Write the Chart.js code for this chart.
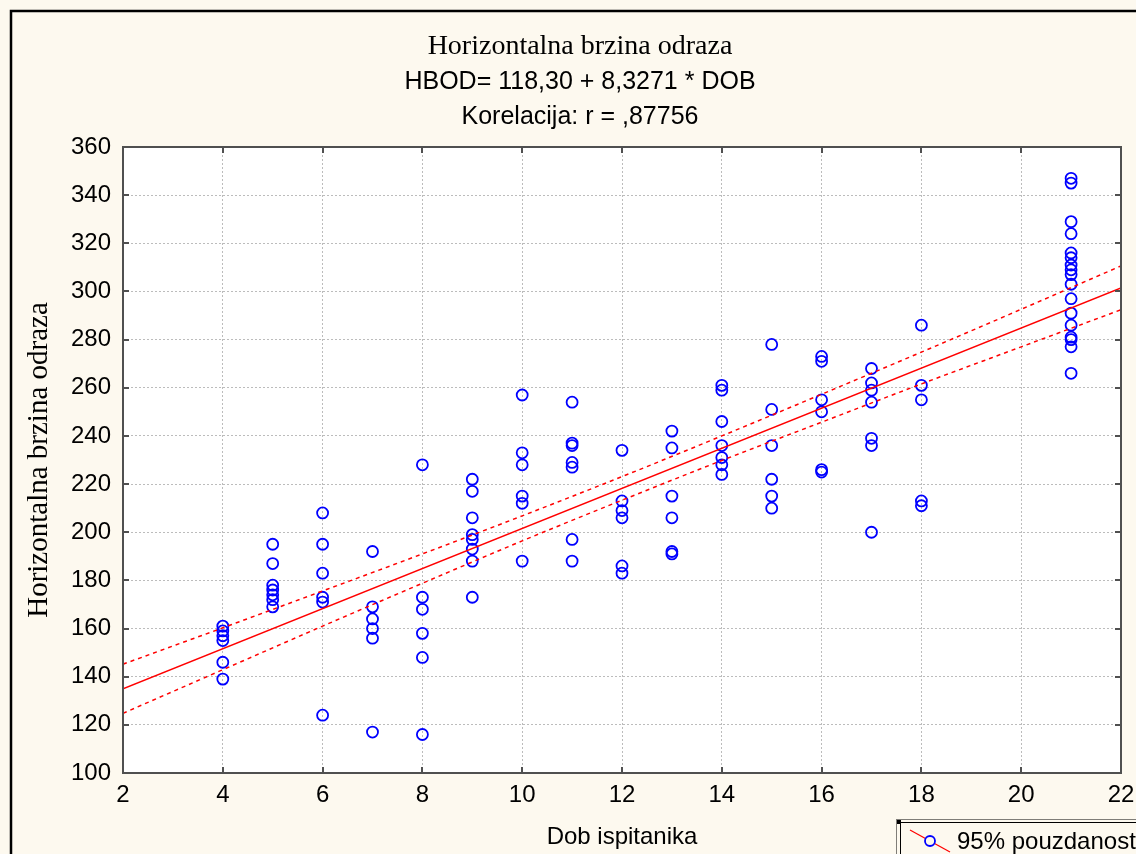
<!DOCTYPE html>
<html>
<head>
<meta charset="utf-8">
<title>Horizontalna brzina odraza</title>
<script src="https://cdn.jsdelivr.net/npm/chart.js@4.4.1/dist/chart.umd.min.js"></script>
<style>
  html, body { margin: 0; padding: 0; background: #fdf9ef; overflow: hidden; }
  canvas { display: block; }
</style>
</head>
<body>
<canvas id="chart" width="1136" height="854"></canvas>
<script>
// dob ispitanika (godine) i izmjerene brzine po skupini
const groupAges = [4, 5, 6, 7, 8, 9, 10, 11, 12, 13, 14, 15, 16, 17, 18, 21];
const groupValues = [
  [161, 159, 157, 155, 146, 139],
  [195, 187, 178, 176, 174, 172, 169],
  [208, 195, 183, 173, 171, 124],
  [192, 169, 164, 160, 156, 117],
  [228, 173, 168, 158, 148, 116],
  [222, 217, 206, 199, 197, 193, 188, 173],
  [257, 233, 228, 215, 212, 188],
  [254, 237, 236, 229, 227, 197, 188],
  [234, 213, 209, 206, 186, 183],
  [242, 235, 215, 206, 192, 191],
  [261, 259, 246, 236, 231, 228, 224],
  [278, 251, 236, 222, 215, 210],
  [273, 271, 255, 250, 226, 225],
  [268, 262, 259, 254, 239, 236, 200],
  [286, 261, 255, 213, 211],
  [347, 345, 329, 324, 316, 314, 311, 309, 307, 303, 297, 291, 286, 281, 280, 277, 266]
];

// regresijski pravac iz naslova
const intercept = 118.30;
const slope = 8.3271;
const fitRange = [2, 22];

// granice 95% pouzdanosti
const bandAges = [2, 4, 6, 8, 10, 12, 14, 16, 18, 20, 22];
const bandUpper = [145.2, 160.3, 175.6, 191.0, 206.8, 223.1, 240.0, 257.3, 274.8, 292.6, 310.6];
const bandLower = [124.8, 142.9, 161.0, 178.8, 196.4, 213.3, 229.8, 245.7, 261.6, 277.0, 292.4];

const xTicks = { min: 2, max: 22, step: 2 };
const yTicks = { min: 100, max: 360, step: 20 };

const SANS = '"Liberation Sans", Arial, sans-serif';
const SERIF = '"Liberation Serif", "Times New Roman", serif';
const CREAM = '#fdf9ef';

const points = groupAges.flatMap((age, i) => groupValues[i].map(v => ({ x: age, y: v })));
const fitLine = fitRange.map(x => ({ x, y: intercept + slope * x }));
const upper = bandAges.map((x, i) => ({ x, y: bandUpper[i] }));
const lower = bandAges.map((x, i) => ({ x, y: bandLower[i] }));

const framePlugin = {
  id: 'statFrame',
  beforeDraw(chart) {
    const { ctx, chartArea: a } = chart;
    ctx.save();
    ctx.fillStyle = CREAM;
    ctx.fillRect(0, 0, chart.width, chart.height);
    ctx.strokeStyle = '#000';
    ctx.lineWidth = 2.5;
    ctx.beginPath();
    ctx.moveTo(11, chart.height + 5);
    ctx.lineTo(11, 11);
    ctx.lineTo(chart.width + 5, 11);
    ctx.stroke();
    ctx.fillStyle = '#fff';
    ctx.fillRect(a.left, a.top, a.right - a.left, a.bottom - a.top);
    ctx.restore();
  },
  afterDraw(chart) {
    const { ctx, chartArea: a, scales } = chart;
    ctx.save();

    // okvir i unutarnje oznake
    ctx.strokeStyle = '#505050';
    ctx.lineWidth = 2;
    ctx.strokeRect(a.left, a.top, a.right - a.left, a.bottom - a.top);
    ctx.beginPath();
    scales.y.ticks.forEach(t => {
      const y = Math.round(scales.y.getPixelForValue(t.value));
      ctx.moveTo(a.left, y); ctx.lineTo(a.left + 6, y);
      ctx.moveTo(a.right, y); ctx.lineTo(a.right - 6, y);
    });
    scales.x.ticks.forEach(t => {
      const x = Math.round(scales.x.getPixelForValue(t.value));
      ctx.moveTo(x, a.bottom); ctx.lineTo(x, a.bottom - 6);
      ctx.moveTo(x, a.top); ctx.lineTo(x, a.top + 6);
    });
    ctx.stroke();

    // naslovi
    ctx.fillStyle = '#000';
    ctx.textAlign = 'center';
    ctx.textBaseline = 'alphabetic';
    ctx.font = '28px ' + SERIF;
    ctx.fillText('Horizontalna brzina odraza', 580, 54);
    ctx.font = '25px ' + SANS;
    ctx.fillText('HBOD= 118,30 + 8,3271 * DOB', 580, 89);
    ctx.fillText('Korelacija: r = ,87756', 580, 124);

    // legenda
    ctx.strokeStyle = '#000';
    ctx.lineWidth = 1;
    ctx.setLineDash([1, 1]);
    ctx.strokeRect(896.5, 819.5, 400, 100);
    ctx.setLineDash([]);
    ctx.strokeRect(900.5, 822.5, 400, 100);
    ctx.fillRect(897, 820, 4, 4);
    ctx.strokeStyle = '#ff0000';
    ctx.lineWidth = 1.2;
    ctx.beginPath();
    ctx.moveTo(910, 830); ctx.lineTo(950, 852);
    ctx.stroke();
    ctx.fillStyle = CREAM;
    ctx.strokeStyle = '#0000ff';
    ctx.lineWidth = 1.8;
    ctx.beginPath();
    ctx.arc(930, 841, 5, 0, Math.PI * 2);
    ctx.fill();
    ctx.stroke();
    ctx.fillStyle = '#000';
    ctx.textAlign = 'left';
    ctx.font = '24px ' + SANS;
    ctx.fillText('95% pouzdanost', 957, 849);

    ctx.restore();
  }
};

const bandStyle = {
  type: 'line',
  borderColor: '#ff0000',
  borderWidth: 1.5,
  borderDash: [4, 4],
  pointRadius: 0,
  fill: false,
  cubicInterpolationMode: 'monotone'
};

new Chart(document.getElementById('chart').getContext('2d'), {
  type: 'scatter',
  data: {
    datasets: [
      {
        label: 'HBOD',
        data: points,
        pointRadius: 5.5,
        pointBorderWidth: 1.8,
        pointBorderColor: '#0000ff',
        pointBackgroundColor: 'rgba(0,0,0,0)',
        order: 2
      },
      {
        label: 'Regresija',
        type: 'line',
        data: fitLine,
        borderColor: '#ff0000',
        borderWidth: 1.5,
        pointRadius: 0,
        fill: false,
        order: 1
      },
      Object.assign({ label: '95% gornja', data: upper, order: 1 }, bandStyle),
      Object.assign({ label: '95% donja', data: lower, order: 1 }, bandStyle)
    ]
  },
  options: {
    responsive: false,
    animation: false,
    layout: { padding: { top: 147, left: 12, right: 15, bottom: 0 } },
    plugins: {
      legend: { display: false },
      tooltip: { enabled: false }
    },
    scales: {
      x: {
        type: 'linear',
        min: xTicks.min,
        max: xTicks.max,
        ticks: {
          stepSize: xTicks.step,
          padding: 8,
          color: '#000',
          font: { family: SANS, size: 24 }
        },
        grid: { color: '#bcbcbc', drawTicks: false, lineWidth: 1 },
        border: { display: false, dash: [2, 2] },
        title: {
          display: true,
          text: 'Dob ispitanika',
          color: '#000',
          font: { family: SANS, size: 24 },
          padding: { top: 0, bottom: 2 }
        },
        afterFit: s => {
          s.height = 81;
          s.paddingLeft = 0;
          s.paddingRight = 0;
        }
      },
      y: {
        min: yTicks.min,
        max: yTicks.max,
        ticks: {
          stepSize: yTicks.step,
          padding: 12,
          color: '#000',
          font: { family: SANS, size: 24 }
        },
        grid: { color: '#bcbcbc', drawTicks: false, lineWidth: 1 },
        border: { display: false, dash: [2, 2] },
        title: {
          display: true,
          text: 'Horizontalna brzina odraza',
          color: '#000',
          font: { family: SERIF, size: 29 },
          padding: { top: 10, bottom: 0 }
        },
        afterFit: s => { s.width = 111; }
      }
    }
  },
  plugins: [framePlugin]
});
</script>
</body>
</html>
